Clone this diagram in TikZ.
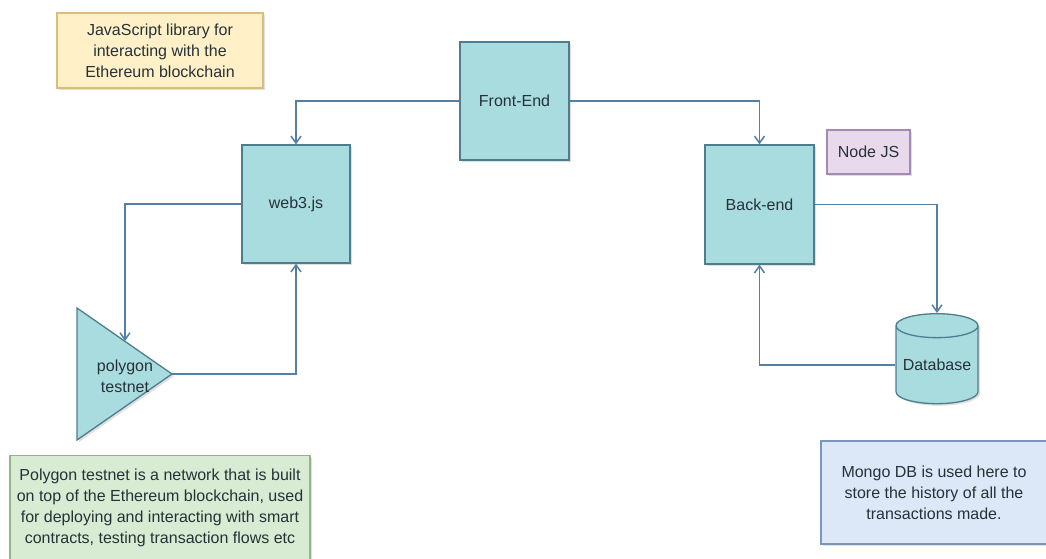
\documentclass[tikz,border=0pt]{standalone}
\usepackage{fontspec}
\setmainfont{Liberation Sans}
\usetikzlibrary{shapes.geometric,arrows.meta,shadows}
\definecolor{tealfill}{HTML}{A9DCDF}
\definecolor{tealline}{HTML}{4E7E8E}
\definecolor{arrowc}{HTML}{5580A4}
\definecolor{yelfill}{HTML}{FFF0C8}
\definecolor{yelline}{HTML}{D8BE78}
\definecolor{purfill}{HTML}{E8DAEC}
\definecolor{purline}{HTML}{A48AB0}
\definecolor{grnfill}{HTML}{D8EBD3}
\definecolor{grnline}{HTML}{92B585}
\definecolor{blufill}{HTML}{DCE7F8}
\definecolor{bluline}{HTML}{7C95BC}
\definecolor{txt}{HTML}{263238}
\tikzset{
  x=1pt, y=-1pt,
  shad/.style={drop shadow={opacity=0.25, shadow xshift=2pt, shadow yshift=-2pt}},
  base/.style={font=\fontsize{16}{21}\selectfont, text=txt, align=center, inner sep=0pt, line width=1.3pt},
  block/.style={base, rectangle, fill=tealfill, draw=tealline, shad},
  note/.style={base, rectangle, shad},
  conn/.style={draw=arrowc, line width=1.5pt, -{Straight Barb[length=7pt,width=10pt]}},
}
\begin{document}
\begin{tikzpicture}
\clip (0,0) rectangle (1046,558);
\fill[white] (0,0) rectangle (1046,558);

% notes
\node[note, fill=yelfill, draw=yelline, minimum width=206pt, minimum height=75pt] (jsnote) at (160,50.5)
  {JavaScript library for\\interacting with the\\Ethereum blockchain};
\node[note, fill=purfill, draw=purline, minimum width=83pt, minimum height=44pt] (nodejs) at (868.5,152) {Node JS};
\node[note, fill=grnfill, draw=grnline, minimum width=300pt, minimum height=110pt, anchor=north] (polynote) at (160,455) {};
\node[base] (polytext) at (160,508) {Polygon testnet is a network that is built\\on top of the Ethereum blockchain, used\\for deploying and interacting with smart\\contracts, testing transaction flows etc};
\node[note, fill=blufill, draw=bluline, minimum width=226pt, minimum height=103pt] (mongo) at (934,492.5)
  {Mongo DB is used here to\\store the history of all the\\transactions made.};

% main blocks
\node[block, minimum width=109pt, minimum height=118pt] (front) at (514.5,101) {Front-End};
\node[block, minimum width=108pt, minimum height=118pt] (web3) at (296,204) {web3.js};
\node[block, minimum width=109pt, minimum height=119pt] (back) at (759.5,204.5) {Back-end};
\node[base, cylinder, shape border rotate=90, aspect=0.35, fill=tealfill, draw=tealline, shad,
      minimum width=82pt, minimum height=90pt] (db) at (937,365) {Database};

% polygon testnet triangle
\coordinate (tria) at (77,308);
\coordinate (polyout) at (172,374);
\coordinate (trib) at (77,440);
\coordinate (polyin) at (125,341);
\draw[fill=tealfill, draw=tealline, line width=1.3pt, shad] (tria) -- (polyout) -- (trib) -- cycle;
\node[base] (poly) at (125,376) {polygon\\testnet};

% connectors
\draw[conn] (front.west) -| (web3.north);
\draw[conn] (front.east) -| (back.north);
\draw[conn] (web3.west) -| (polyin);
\draw[conn] (polyout) -| (web3.south);
\draw[conn] (back.east) -| (db.north);
\draw[conn] (db.west) -| (back.south);
\end{tikzpicture}
\end{document}
